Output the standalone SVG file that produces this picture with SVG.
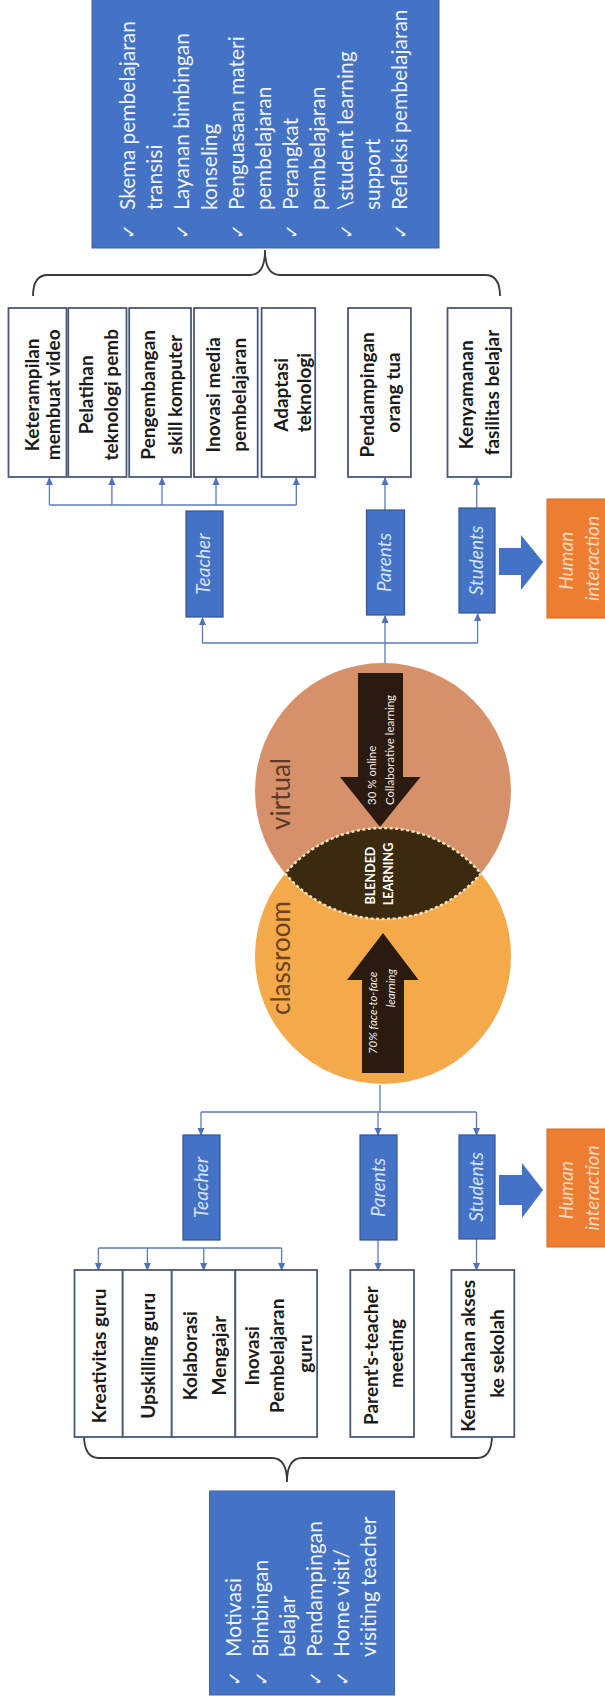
<svg xmlns="http://www.w3.org/2000/svg" width="605" height="1707" viewBox="0 0 605 1707">
<defs>
<style>
.bluebox{fill:#4472C4;stroke:#3b64ae;stroke-width:1}
.list{font-family:Lato,"Liberation Sans",sans-serif;font-size:21px;fill:#eef3fb}
.chk{font-family:"DejaVu Sans",sans-serif;font-size:18px;fill:#eef3fb}
.wbox{fill:#ffffff;stroke:#4a5878;stroke-width:1.8}
.wtxt{font-family:Lato,"Liberation Sans",sans-serif;font-size:19px;font-weight:bold;fill:#1a1a1a;text-anchor:middle}
.lbl{fill:#4472C4;stroke:#2f5597;stroke-width:1.2}
.ltxt{font-family:Lato,"Liberation Sans",sans-serif;font-style:italic;font-size:19px;fill:#d5e2f7;text-anchor:middle}
.obox{fill:#ED7D31;stroke:#d06a26;stroke-width:1}
.otxt{font-family:Lato,"Liberation Sans",sans-serif;font-style:italic;font-size:19px;fill:#fcd9bd;text-anchor:middle}
.conn{fill:none;stroke:#5b7bbd;stroke-width:1.3}
.brace{fill:none;stroke:#3a3a3a;stroke-width:1.8}
.blk{fill:#4472C4}
.dark{fill:#2b1a10}
.atxt{font-family:Lato,"Liberation Sans",sans-serif;font-size:11.5px;fill:#f2ebe3}
.ctxt{font-family:Lato,"Liberation Sans",sans-serif;font-size:26px}
</style>
<marker id="ah" markerWidth="8" markerHeight="8" refX="7" refY="4" orient="auto" markerUnits="userSpaceOnUse"><path d="M0,0.5 L8,4 L0,7.5z" fill="#4f72b8"/></marker>
</defs>

<g id="connectors">
  <path class="brace" d="M33,296 Q33,275 48,275 L250,275 Q265,275 265,250 Q265,275 280,275 L485,275 Q500,275 500,296"/>
  <path class="brace" d="M84,1435 Q84,1458 99,1458 L272,1458 Q287,1458 287,1482 Q287,1458 302,1458 L477,1458 Q492,1458 492,1435"/>
  <line class="conn" x1="49.4" y1="505" x2="296.3" y2="505"/>
  <line class="conn" x1="49.4" y1="505" x2="49.4" y2="478" marker-end="url(#ah)"/>
  <line class="conn" x1="111.9" y1="505" x2="111.9" y2="478" marker-end="url(#ah)"/>
  <line class="conn" x1="162" y1="505" x2="162" y2="478" marker-end="url(#ah)"/>
  <line class="conn" x1="216" y1="505" x2="216" y2="478" marker-end="url(#ah)"/>
  <line class="conn" x1="296.3" y1="505" x2="296.3" y2="478" marker-end="url(#ah)"/>
  <line class="conn" x1="385" y1="510" x2="385" y2="478" marker-end="url(#ah)"/>
  <line class="conn" x1="476.7" y1="508" x2="476.7" y2="478" marker-end="url(#ah)"/>
  <line class="conn" x1="385" y1="664" x2="385" y2="643"/>
  <line class="conn" x1="202.5" y1="643" x2="477.6" y2="643"/>
  <line class="conn" x1="202.5" y1="643" x2="202.5" y2="618" marker-end="url(#ah)"/>
  <line class="conn" x1="385" y1="643" x2="385" y2="616" marker-end="url(#ah)"/>
  <line class="conn" x1="477.6" y1="643" x2="477.6" y2="614" marker-end="url(#ah)"/>
  <line class="conn" x1="380" y1="1085" x2="380" y2="1112"/>
  <line class="conn" x1="201" y1="1112" x2="476.5" y2="1112"/>
  <line class="conn" x1="201" y1="1112" x2="201" y2="1135" marker-end="url(#ah)"/>
  <line class="conn" x1="378" y1="1112" x2="378" y2="1135" marker-end="url(#ah)"/>
  <line class="conn" x1="476.5" y1="1112" x2="476.5" y2="1135" marker-end="url(#ah)"/>
  <line class="conn" x1="98.4" y1="1248" x2="281.6" y2="1248"/>
  <line class="conn" x1="98.4" y1="1248" x2="98.4" y2="1270" marker-end="url(#ah)"/>
  <line class="conn" x1="147.4" y1="1248" x2="147.4" y2="1270" marker-end="url(#ah)"/>
  <line class="conn" x1="203.7" y1="1248" x2="203.7" y2="1270" marker-end="url(#ah)"/>
  <line class="conn" x1="281.6" y1="1248" x2="281.6" y2="1270" marker-end="url(#ah)"/>
  <line class="conn" x1="378" y1="1240" x2="378" y2="1270" marker-end="url(#ah)"/>
  <line class="conn" x1="476.5" y1="1239" x2="476.5" y2="1270" marker-end="url(#ah)"/>
  <polygon class="blk" points="499,548 521,548 521,535 543,562 521,590 521,575 499,575"/>
  <polygon class="blk" points="499,1175 522,1175 522,1163 543,1190 522,1218 522,1205 499,1205"/>
</g>

<g id="virtual-support">
  <rect class="bluebox" x="92" y="-2" width="347" height="250"/>
  <text class="list" transform="translate(0,210) rotate(-90)">
    <tspan x="0" y="135">Skema pembelajaran</tspan>
    <tspan x="0" y="162.2">transisi</tspan>
    <tspan x="0" y="189.4">Layanan bimbingan</tspan>
    <tspan x="0" y="216.6">konseling</tspan>
    <tspan x="0" y="243.8">Penguasaan materi</tspan>
    <tspan x="0" y="271">pembelajaran</tspan>
    <tspan x="0" y="298.2">Perangkat</tspan>
    <tspan x="0" y="325.4">pembelajaran</tspan>
    <tspan x="0" y="352.6">\student learning</tspan>
    <tspan x="0" y="379.8">support</tspan>
    <tspan x="0" y="407">Refleksi pembelajaran</tspan>
  </text>
  <text class="chk" transform="translate(0,239) rotate(-90)">
    <tspan x="0" y="135">✓</tspan>
    <tspan x="0" y="189.4">✓</tspan>
    <tspan x="0" y="243.8">✓</tspan>
    <tspan x="0" y="298.2">✓</tspan>
    <tspan x="0" y="352.6">✓</tspan>
    <tspan x="0" y="407">✓</tspan>
  </text>
</g>

<g id="v-teacher-items">
  <rect class="wbox" x="8.5" y="308" width="58" height="169"/>
  <rect class="wbox" x="68.3" y="308" width="58.2" height="169"/>
  <rect class="wbox" x="129.2" y="308" width="61.8" height="169"/>
  <rect class="wbox" x="194" y="308" width="63.7" height="169"/>
  <rect class="wbox" x="261.6" y="308" width="53.6" height="169"/>
  <text class="wtxt" transform="translate(0,392.5) rotate(-90)">
    <tspan x="0" y="39">Keterampilan</tspan>
    <tspan x="0" y="60">membuat video</tspan>
    <tspan x="0" y="93">Pelatihan</tspan>
    <tspan x="0" y="118">teknologi pemb</tspan>
    <tspan x="0" y="154.5">Pengembangan</tspan>
    <tspan x="0" y="181.5">skill komputer</tspan>
    <tspan x="0" y="220">Inovasi media</tspan>
    <tspan x="0" y="246">pembelajaran</tspan>
    <tspan x="0" y="287.6">Adaptasi</tspan>
    <tspan x="0" y="310.8">teknologi</tspan>
  </text>
</g>
<g id="v-parent-item">
  <rect class="wbox" x="348" y="308" width="62.9" height="169"/>
  <text class="wtxt" transform="translate(0,392.5) rotate(-90)">
    <tspan x="0" y="374.4">Pendampingan</tspan>
    <tspan x="0" y="399.5">orang tua</tspan>
  </text>
</g>
<g id="v-student-item">
  <rect class="wbox" x="447.5" y="308" width="63.7" height="169"/>
  <text class="wtxt" transform="translate(0,392.5) rotate(-90)">
    <tspan x="0" y="472.8">Kenyamanan</tspan>
    <tspan x="0" y="499">fasilitas belajar</tspan>
  </text>
</g>

<g id="v-teacher">
  <rect class="lbl" x="186" y="511" width="37" height="106"/>
  <text class="ltxt" transform="translate(0,564) rotate(-90)"><tspan x="0" y="210">Teacher</tspan></text>
</g>
<g id="v-parents">
  <rect class="lbl" x="366.5" y="510" width="38" height="105"/>
  <text class="ltxt" transform="translate(0,562.5) rotate(-90)"><tspan x="0" y="391">Parents</tspan></text>
</g>
<g id="v-students">
  <rect class="lbl" x="459" y="508" width="36" height="105"/>
  <text class="ltxt" transform="translate(0,560.5) rotate(-90)"><tspan x="0" y="483">Students</tspan></text>
</g>
<g id="v-human">
  <rect class="obox" x="547" y="499" width="62" height="119"/>
  <text class="otxt" transform="translate(0,558.5) rotate(-90)">
    <tspan x="0" y="573">Human</tspan>
    <tspan x="0" y="599">interaction</tspan>
  </text>
</g>

<g id="virtual">
  <circle cx="383" cy="791" r="128" fill="#D6916B"/>
  <text class="ctxt" fill="#5c3a24" transform="translate(0,830) rotate(-90)"><tspan x="0" y="290">virtual</tspan></text>
</g>
<g id="classroom">
  <circle cx="383" cy="956" r="128" fill="#F4A94A"/>
  <text class="ctxt" fill="#6e4420" transform="translate(0,1015) rotate(-90)"><tspan x="0" y="290">classroom</tspan></text>
</g>
<g id="blended">
  <path d="M285.1,873.5 A128,128 0 0 0 480.9,873.5 A128,128 0 0 0 285.1,873.5 Z" fill="#3b2a0e" stroke="#f3e2c4" stroke-width="2.5" stroke-dasharray="3 2.5"/>
  <text font-family="Lato,'Liberation Sans',sans-serif" font-size="12.5" font-weight="bold" fill="#ffffff" text-anchor="middle" transform="translate(0,874) rotate(-90)">
    <tspan x="0" y="375">BLENDED</tspan>
    <tspan x="0" y="393">LEARNING</tspan>
  </text>
</g>
<g id="online-arrow">
  <polygon class="dark" points="358,673 403,673 403,777 420.5,777 380,827 340,777 358,777"/>
  <text class="atxt" transform="translate(0,805) rotate(-90)">
    <tspan x="0" y="375.5">30 % online</tspan>
    <tspan x="0" y="393.5">Collaborative learning</tspan>
  </text>
</g>
<g id="face-arrow">
  <polygon class="dark" points="362,1073 404,1073 404,980 418.6,980 383,933 347,980 362,980"/>
  <text class="atxt" font-style="italic" text-anchor="end" transform="translate(0,969) rotate(-90)">
    <tspan x="0" y="377">70% face-to-face</tspan>
    <tspan x="0" y="395">learning</tspan>
  </text>
</g>

<g id="c-teacher">
  <rect class="lbl" x="183" y="1135" width="37" height="105"/>
  <text class="ltxt" transform="translate(0,1187.5) rotate(-90)"><tspan x="0" y="207.5">Teacher</tspan></text>
</g>
<g id="c-parents">
  <rect class="lbl" x="360" y="1135" width="37" height="105"/>
  <text class="ltxt" transform="translate(0,1187.5) rotate(-90)"><tspan x="0" y="384.5">Parents</tspan></text>
</g>
<g id="c-students">
  <rect class="lbl" x="459" y="1135" width="36" height="104"/>
  <text class="ltxt" transform="translate(0,1187) rotate(-90)"><tspan x="0" y="483">Students</tspan></text>
</g>
<g id="c-human">
  <rect class="obox" x="547" y="1129" width="62" height="118"/>
  <text class="otxt" transform="translate(0,1188) rotate(-90)">
    <tspan x="0" y="573">Human</tspan>
    <tspan x="0" y="599">interaction</tspan>
  </text>
</g>

<g id="c-teacher-items">
  <rect class="wbox" x="74.5" y="1270" width="48.2" height="167"/>
  <rect class="wbox" x="122.7" y="1270" width="49" height="167"/>
  <rect class="wbox" x="171.7" y="1270" width="63.6" height="167"/>
  <rect class="wbox" x="235.3" y="1270" width="81.8" height="167"/>
  <text class="wtxt" transform="translate(0,1353.5) rotate(-90)">
    <tspan x="0" y="106">Kreativitas guru</tspan>
    <tspan x="0" y="154.5">Upskilling guru</tspan>
    <tspan x="0" y="197">Kolaborasi</tspan>
    <tspan x="0" y="226">Mengajar</tspan>
    <tspan x="0" y="258.7">Inovasi</tspan>
    <tspan x="0" y="283.8">Pembelajaran</tspan>
    <tspan x="0" y="312">guru</tspan>
  </text>
</g>
<g id="c-parent-item">
  <rect class="wbox" x="350.3" y="1270" width="63.7" height="167"/>
  <text class="wtxt" transform="translate(0,1353.5) rotate(-90)">
    <tspan x="0" y="378">Parent’s-teacher</tspan>
    <tspan x="0" y="403.4">meeting</tspan>
  </text>
</g>
<g id="c-student-item">
  <rect class="wbox" x="451.4" y="1270" width="62.9" height="167"/>
  <text class="wtxt" transform="translate(0,1353.5) rotate(-90)">
    <tspan x="0" y="474.7">Kemudahan akses</tspan>
    <tspan x="0" y="503.7">ke sekolah</tspan>
  </text>
</g>

<g id="classroom-support">
  <rect class="bluebox" x="209.5" y="1491" width="185" height="204"/>
  <text class="list" transform="translate(0,1657) rotate(-90)">
    <tspan x="0" y="241">Motivasi</tspan>
    <tspan x="0" y="268">Bimbingan</tspan>
    <tspan x="0" y="295">belajar</tspan>
    <tspan x="0" y="322">Pendampingan</tspan>
    <tspan x="0" y="349">Home visit/</tspan>
    <tspan x="0" y="376">visiting teacher</tspan>
  </text>
  <text class="chk" transform="translate(0,1686) rotate(-90)">
    <tspan x="0" y="241">✓</tspan>
    <tspan x="0" y="268">✓</tspan>
    <tspan x="0" y="322">✓</tspan>
    <tspan x="0" y="349">✓</tspan>
  </text>
</g>
</svg>
